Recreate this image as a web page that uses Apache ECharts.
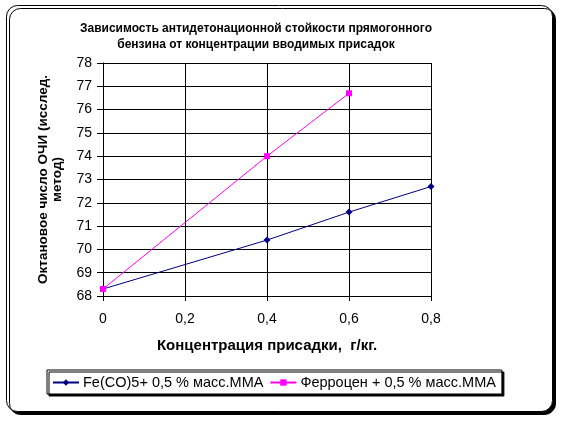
<!DOCTYPE html>
<html>
<head>
<meta charset="utf-8">
<script src="https://cdn.jsdelivr.net/npm/echarts@6/dist/echarts.min.js"></script>
<style>html,body{margin:0;padding:0;background:#fff;}#c{width:561px;height:423px;}</style>
</head>
<body>
<div id="c"></div>
<script>
var xValues = [0, 0.4, 0.6, 0.8];
var feCO5 = [68.3, 70.4, 71.6, 72.7];
var ferrocenX = [0, 0.4, 0.6];
var ferrocen = [68.3, 74.0, 76.7];
var seriesNames = ['Fe(CO)5+ 0,5 % масс.ММА', 'Ферроцен + 0,5 % масс.ММА'];
var titleText = 'Зависимость антидетонационной стойкости прямогонного\nбензина от концентрации вводимых присадок';
var xName = 'Концентрация присадки,  г/кг.';
var yName = 'Октановое число ОЧИ (исслед.\nметод)';

function pairs(xs, ys) { return xs.map(function (x, i) { return [x, ys[i]]; }); }

var font = 'Liberation Sans, Arial, sans-serif';
var chart = echarts.init(document.getElementById('c'));
chart.setOption({
  backgroundColor: '#fff',
  animation: false,
  graphic: [{
    type: 'rect', z: -10,
    shape: { x: 6.5, y: 5.5, width: 546, height: 406, r: 11 },
    style: { fill: '#fff', stroke: '#000', lineWidth: 1, shadowColor: '#000', shadowOffsetX: 3, shadowOffsetY: 3, shadowBlur: 0 }
  }],
  title: {
    text: titleText, left: 251, top: 16, textAlign: 'center',
    textStyle: { fontFamily: font, fontSize: 12, fontWeight: 'bold', color: '#000', lineHeight: 16 }
  },
  grid: { left: 103, right: 130, top: 63, bottom: 127 },
  legend: {
    left: 47, top: 370, width: 453, height: 25,
    padding: [5, 6, 4, 5], itemGap: 6, itemWidth: 26, itemHeight: 8,
    backgroundColor: '#fff', borderColor: '#000', borderWidth: 1,
    shadowColor: '#000', shadowOffsetX: 2, shadowOffsetY: 2, shadowBlur: 0,
    textStyle: { fontFamily: font, fontSize: 14.5, color: '#000', padding: [0, 0, 0, -1] },
    data: seriesNames
  },
  xAxis: {
    type: 'value', min: 0, max: 0.8, interval: 0.2,
    name: xName, nameLocation: 'middle', nameGap: 42,
    nameTextStyle: { fontFamily: font, fontSize: 15, fontWeight: 'bold', color: '#000' },
    axisLine: { lineStyle: { color: '#000', width: 1 } },
    axisTick: { show: true, inside: false, length: 5, lineStyle: { color: '#000' } },
    axisLabel: { fontFamily: font, fontSize: 14, color: '#000', margin: 16,
      formatter: function (v) { return String(Math.round(v * 10) / 10).replace('.', ','); } },
    splitLine: { show: true, lineStyle: { color: '#000', width: 1 } }
  },
  yAxis: {
    type: 'value', min: 68, max: 78, interval: 1,
    name: yName, nameLocation: 'middle', nameGap: 39, nameRotate: 90,
    nameTextStyle: { fontFamily: font, fontSize: 13.5, fontWeight: 'bold', color: '#000', lineHeight: 14 },
    axisLine: { show: true, lineStyle: { color: '#000', width: 1 } },
    axisTick: { show: true, inside: false, length: 6, lineStyle: { color: '#000' } },
    axisLabel: { fontFamily: font, fontSize: 14, color: '#000', margin: 11 },
    splitLine: { show: true, lineStyle: { color: '#000', width: 1 } }
  },
  series: [{
    name: seriesNames[0], type: 'line', data: pairs(xValues, feCO5),
    symbol: 'diamond', symbolSize: 7, color: '#000080',
    lineStyle: { color: '#000080', width: 1 }, itemStyle: { color: '#000080' }
  }, {
    name: seriesNames[1], type: 'line', data: pairs(ferrocenX, ferrocen),
    symbol: 'rect', symbolSize: 6, color: '#FF00FF',
    lineStyle: { color: '#FF00FF', width: 1 }, itemStyle: { color: '#FF00FF' }
  }]
});
</script>
</body>
</html>
